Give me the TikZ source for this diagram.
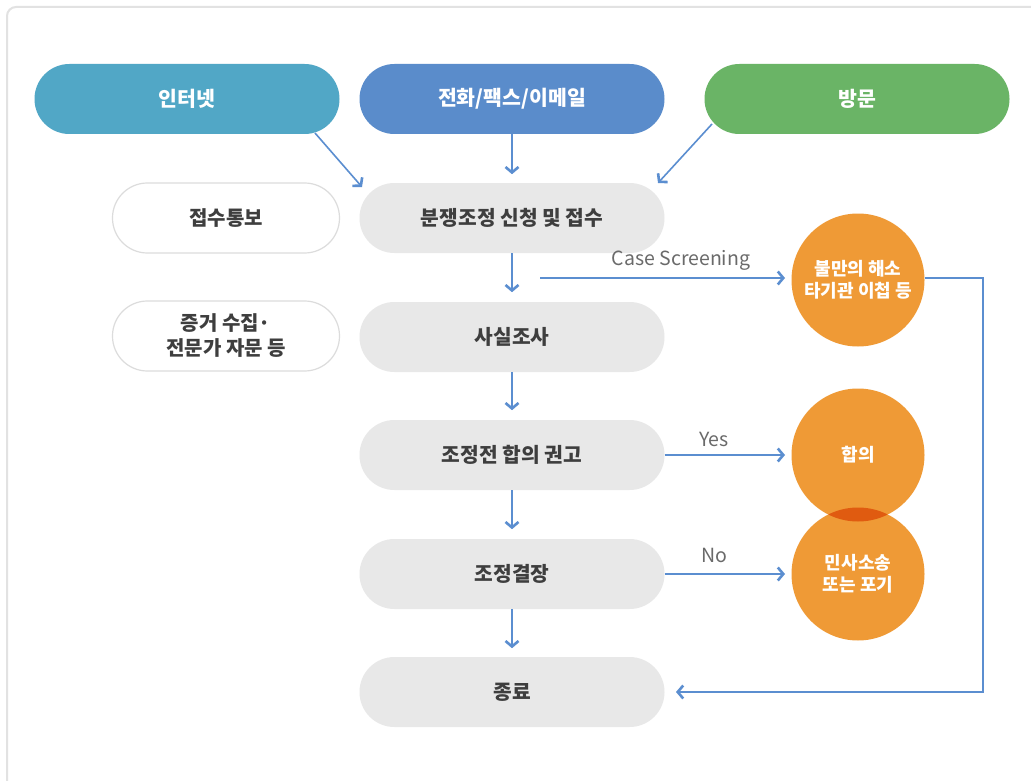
\documentclass[tikz,border=0pt]{standalone}
\usepackage{fontspec}
\setmainfont{Noto Sans CJK KR}
\newfontfamily\kr{Noto Sans CJK KR}
\newfontfamily\lat{Noto Sans CJK KR}
\usetikzlibrary{arrows.meta}
\definecolor{cteal}{HTML}{51A7C6}
\definecolor{cblue}{HTML}{5A8CCB}
\definecolor{cgreen}{HTML}{6AB466}
\definecolor{cgrey}{HTML}{E8E8E8}
\definecolor{corange}{HTML}{EF9A36}
\definecolor{cdark}{HTML}{E05B10}
\definecolor{carrow}{HTML}{5B8ED0}
\definecolor{ctext}{HTML}{3E3E3E}
\definecolor{clabel}{HTML}{6A6A6A}
\definecolor{cframe}{HTML}{E2E2E2}
\definecolor{coutline}{HTML}{DCDCDC}
\tikzset{
  pill/.style={rectangle, rounded corners=34.9pt, minimum width=305pt, minimum height=70pt, inner sep=0pt, align=center},
  toppill/.style={pill, text=white, font=\kr\bfseries\fontsize{20.5}{22}\selectfont},
  greypill/.style={pill, fill=cgrey, text=ctext, font=\kr\bfseries\fontsize{20.3}{22}\selectfont},
  sidepill/.style={rectangle, rounded corners=34.9pt, minimum width=227pt, minimum height=70pt, inner sep=0pt, draw=coutline, line width=1.2pt, fill=white, text=ctext, align=center, font=\kr\bfseries\fontsize{20}{25}\selectfont},
  orb/.style={circle, minimum size=133pt, inner sep=0pt, fill=corange, text=white, align=center, font=\kr\bfseries\fontsize{18}{22.5}\selectfont},
  orbtext/.style={text=white, align=center, font=\kr\bfseries\fontsize{18}{22.5}\selectfont},
  flow/.style={draw=carrow, line width=1.6pt, -{Straight Barb[length=5.5pt,width=13pt,line width=2.6pt]}},
  lbl/.style={text=clabel, font=\lat\fontsize{19.5}{22}\selectfont, inner sep=0pt}
}
\begin{document}
\begin{tikzpicture}[x=1pt,y=-1pt]
\useasboundingbox (0,0) rectangle (1031,781);
\clip (0,0) rectangle (1031,781);
\fill[white] (0,0) rectangle (1031,781);
\draw[cframe, line width=2pt, rounded corners=9pt] (7,800) -- (7,7) -- (1060,7);

% top channels
\node[toppill, fill=cteal] (net) at (187,99) {인터넷};
\node[toppill, fill=cblue] (tel) at (512,99) {전화/팩스/이메일};
\node[toppill, fill=cgreen] (visit) at (857,99) {방문};

% main flow
\node[greypill] (apply) at (512,218) {분쟁조정 신청 및 접수};
\node[greypill] (fact) at (512,337) {사실조사};
\node[greypill] (advise) at (512,455) {조정전 합의 권고};
\node[greypill] (decide) at (512,574) {조정결장};
\node[greypill] (end) at (512,692) {종료};

% side notes
\node[sidepill] (notice) at (226,218) {접수통보};
\node[sidepill] (evid) at (226,336) {증거 수집·\\전문가 자문 등};

% orange outcomes
\node[orb] (resolve) at (858,280) {불만의 해소\\타기관 이첩 등};
\node[orb] (agree) at (858,455) {};
\node[orb] (suit) at (858,574) {};
\begin{scope}
  \clip (858,455) circle (66.5pt);
  \fill[cdark] (858,574) circle (66.5pt);
\end{scope}
\node[orbtext] (agreetxt) at (agree.center) {합의};
\node[orbtext] (suittxt) at (suit.center) {민사소송\\또는 포기};

% coordinates for arrows
\coordinate (netS) at (315,133);
\coordinate (netE) at (362,187);
\coordinate (visS) at (712,124);
\coordinate (visE) at (658,183);
\coordinate (csS) at (540,278);
\coordinate (csE) at (785,278);
\coordinate (r1) at (983,278);
\coordinate (r2) at (983,692);
\coordinate (endE) at (676,692);

\draw[flow] (netS) -- (netE);
\draw[flow] (tel.south) -- ++(0,40);
\draw[flow] (visS) -- (visE);
\draw[flow] (apply.south) -- ++(0,39);
\draw[flow] (fact.south) -- ++(0,38);
\draw[flow] (advise.south) -- ++(0,39);
\draw[flow] (decide.south) -- ++(0,39);

\draw[flow] (csS) -- (csE);
\node[lbl] (cslbl) at (681,260) {Case Screening};

\draw[flow] (advise.east) -- (785,455);
\node[lbl] (yes) at (714,439) {Yes};
\draw[flow] (decide.east) -- (785,574);
\node[lbl] (no) at (714,555) {No};

\draw[flow] (resolve.east |- r1) -- (r1) -- (r2) -- (endE);
\end{tikzpicture}
\end{document}
